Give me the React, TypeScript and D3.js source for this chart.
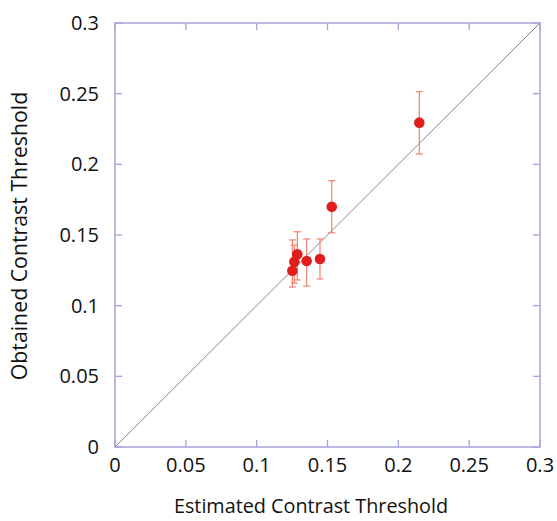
import React from "react";
import * as d3 from "d3";

const estimated = [0.2148, 0.153, 0.1447, 0.1353, 0.1287, 0.1266, 0.1252];
const obtained = [0.2295, 0.170, 0.133, 0.1316, 0.1363, 0.1311, 0.1247];
const errLow = [0.2073, 0.1516, 0.1189, 0.1139, 0.1182, 0.116, 0.1132];
const errHigh = [0.2514, 0.1884, 0.1472, 0.1472, 0.1523, 0.1429, 0.1465];
const tickValues = [0, 0.05, 0.1, 0.15, 0.2, 0.25, 0.3];
const tickLabels = ["0", "0.05", "0.1", "0.15", "0.2", "0.25", "0.3"];

const W = 557, H = 521;
const L = 115, R = 540, T = 23, B = 447;
const frame = "#a4a4e0";
const font = "'Open Sans', sans-serif";

export default function App() {
  const x = d3.scaleLinear().domain([0, 0.3]).range([L, R]);
  const y = d3.scaleLinear().domain([0, 0.3]).range([B, T]);
  const tk = 7;
  return (
    <svg width={W} height={H} style={{ position: "absolute", left: 0, top: 0, background: "#fff" }}>
      <line x1={x(0)} y1={y(0)} x2={x(0.3)} y2={y(0.3)} stroke="#888" strokeWidth={1} />
      {tickValues.map((v, i) => (
        <g key={"t" + i}>
          <line x1={x(v)} x2={x(v)} y1={B} y2={B - tk} stroke={frame} strokeWidth={1.3} />
          <line x1={x(v)} x2={x(v)} y1={T} y2={T + tk} stroke={frame} strokeWidth={1.3} />
          <line x1={L} x2={L + tk} y1={y(v)} y2={y(v)} stroke={frame} strokeWidth={1.3} />
          <line x1={R} x2={R - tk} y1={y(v)} y2={y(v)} stroke={frame} strokeWidth={1.3} />
          <text x={x(v)} y={B + 25} textAnchor="middle" fontFamily={font} fontSize={20} fill="#111">{tickLabels[i]}</text>
          <text x={L - 16} y={y(v) + 7} textAnchor="end" fontFamily={font} fontSize={20} fill="#111">{tickLabels[i]}</text>
        </g>
      ))}
      <rect x={L} y={T} width={R - L} height={B - T} fill="none" stroke={frame} strokeWidth={1.5} />
      {estimated.map((e, i) => (
        <g key={"p" + i}>
          <line x1={x(e)} x2={x(e)} y1={y(errLow[i])} y2={y(errHigh[i])} stroke="#f2806e" strokeWidth={1.2} />
          <line x1={x(e) - 3.5} x2={x(e) + 3.5} y1={y(errLow[i])} y2={y(errLow[i])} stroke="#f2806e" strokeWidth={1.2} />
          <line x1={x(e) - 3.5} x2={x(e) + 3.5} y1={y(errHigh[i])} y2={y(errHigh[i])} stroke="#f2806e" strokeWidth={1.2} />
        </g>
      ))}
      {estimated.map((e, i) => (
        <circle key={"c" + i} cx={x(e)} cy={y(obtained[i])} r={5.3} fill="#e01c1c" />
      ))}
      <text x={311} y={513} textAnchor="middle" fontFamily={font} fontSize={19.8} fill="#111">Estimated Contrast Threshold</text>
      <text transform={`translate(27,236) rotate(-90)`} textAnchor="middle" fontFamily={font} fontSize={21.3} fill="#111">Obtained Contrast Threshold</text>
    </svg>
  );
}
